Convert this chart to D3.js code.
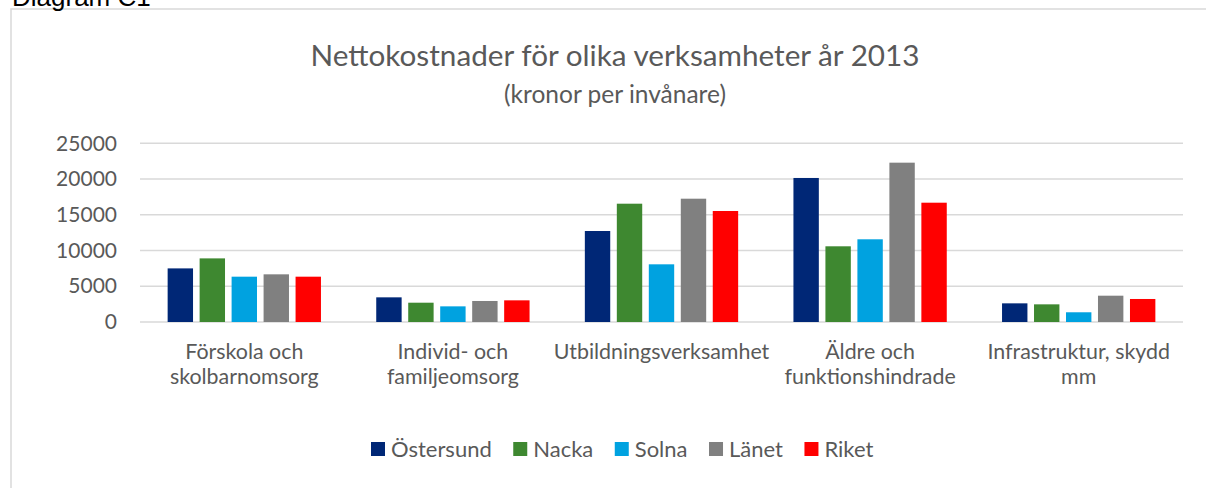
<!DOCTYPE html>
<html>
<head>
<meta charset="utf-8">
<script src="https://cdn.jsdelivr.net/npm/d3@7"></script>
<style>
  body { margin: 0; background: #fff; }
  svg { display: block; }
</style>
</head>
<body>
<script>
// ---- data ----
const categories = [
  ['Förskola och', 'skolbarnomsorg'],
  ['Individ- och', 'familjeomsorg'],
  ['Utbildningsverksamhet'],
  ['Äldre och', 'funktionshindrade'],
  ['Infrastruktur, skydd', 'mm']
];
const seriesNames = ['Östersund', 'Nacka', 'Solna', 'Länet', 'Riket'];
const seriesColors = ['#002776', '#3e8830', '#00a2e0', '#808080', '#ff0000'];

const ostersund = [7500, 3450, 12730, 20150, 2610];
const nacka     = [8900, 2700, 16550, 10590, 2470];
const solna     = [6340, 2190, 8070, 11570, 1360];
const lanet     = [6670, 2940, 17250, 22290, 3680];
const riket     = [6340, 3030, 15530, 16690, 3220];
const seriesValues = [ostersund, nacka, solna, lanet, riket];

const yTicks = [0, 5000, 10000, 15000, 20000, 25000];

// ---- layout ----
const W = 1206, H = 488;
const font = 'Lato, "Open Sans", sans-serif';
const textColor = '#595959';

const svg = d3.select('body').append('svg')
    .attr('width', W)
    .attr('height', H);

// chart frame (runs off right/bottom edge)
svg.append('rect')
    .attr('x', 11).attr('y', 9)
    .attr('width', 1400).attr('height', 700)
    .attr('fill', '#fff')
    .attr('stroke', '#d9d9d9')
    .attr('stroke-width', 1.5);

svg.append('text')
    .attr('x', 12).attr('y', 6)
    .attr('font-family', 'Liberation Sans, Arial, sans-serif')
    .attr('font-size', 26)
    .attr('fill', '#000')
    .text('Diagram C1');

const x0 = d3.scaleBand()
    .domain(d3.range(categories.length))
    .range([140, 1183])
    .paddingInner(0.265)
    .paddingOuter(0.1325);

const x1 = d3.scaleBand()
    .domain(d3.range(seriesNames.length))
    .range([0, x0.bandwidth()])
    .paddingInner(0.206);

const y = d3.scaleLinear()
    .domain([0, 25000])
    .range([322, 143.3]);

// gridlines
svg.append('g')
    .selectAll('line')
    .data(yTicks)
    .enter()
    .append('line')
    .attr('x1', 140).attr('x2', 1183)
    .attr('y1', d => y(d)).attr('y2', d => y(d))
    .attr('stroke', '#d9d9d9')
    .attr('stroke-width', 1.5);

// y axis labels
const yAxis = svg.append('g')
    .attr('transform', 'translate(117,0)')
    .call(d3.axisLeft(y).tickValues(yTicks).tickSize(0).tickPadding(0).tickFormat(d3.format('d')));
yAxis.select('.domain').remove();
yAxis.selectAll('text')
    .attr('font-family', font)
    .attr('font-size', 21)
    .attr('fill', textColor);

// bars
const groups = svg.append('g')
    .selectAll('g')
    .data(categories.map((c, i) => i))
    .enter()
    .append('g')
    .attr('transform', i => `translate(${x0(i)},0)`);

groups.selectAll('rect')
    .data(i => seriesValues.map((vals, s) => ({s: s, v: vals[i]})))
    .enter()
    .append('rect')
    .attr('x', d => x1(d.s))
    .attr('width', x1.bandwidth())
    .attr('y', d => y(d.v))
    .attr('height', d => y(0) - y(d.v))
    .attr('fill', d => seriesColors[d.s]);

// category labels
const catLabels = svg.append('g')
    .selectAll('text')
    .data(categories)
    .enter()
    .append('text')
    .attr('x', (d, i) => x0(i) + x0.bandwidth() / 2)
    .attr('y', 359)
    .attr('text-anchor', 'middle')
    .attr('font-family', font)
    .attr('font-size', 21.4)
    .attr('fill', textColor);

catLabels.selectAll('tspan')
    .data(d => d)
    .enter()
    .append('tspan')
    .attr('x', function() { return this.parentNode.getAttribute('x'); })
    .attr('dy', (d, i) => i === 0 ? 0 : 25)
    .text(d => d);

// title
svg.append('text')
    .attr('x', 615).attr('y', 66)
    .attr('text-anchor', 'middle')
    .attr('font-family', font)
    .attr('font-size', 29.7)
    .attr('fill', textColor)
    .text('Nettokostnader för olika verksamheter år 2013');

svg.append('text')
    .attr('x', 615).attr('y', 103)
    .attr('text-anchor', 'middle')
    .attr('font-family', font)
    .attr('font-size', 24.5)
    .attr('fill', textColor)
    .text('(kronor per invånare)');

// legend
const legend = svg.append('g').attr('transform', 'translate(0,449)');
let lx = 371;
seriesNames.forEach((name, i) => {
  const item = legend.append('g').attr('transform', `translate(${lx},0)`);
  item.append('rect')
      .attr('x', 0).attr('y', -7)
      .attr('width', 14).attr('height', 14)
      .attr('fill', seriesColors[i]);
  const t = item.append('text')
      .attr('x', 20).attr('y', 7.5)
      .attr('font-family', font)
      .attr('font-size', 22)
      .attr('fill', textColor)
      .text(name);
  lx += 20 + t.node().getComputedTextLength() + 21.5;
});
</script>
</body>
</html>
